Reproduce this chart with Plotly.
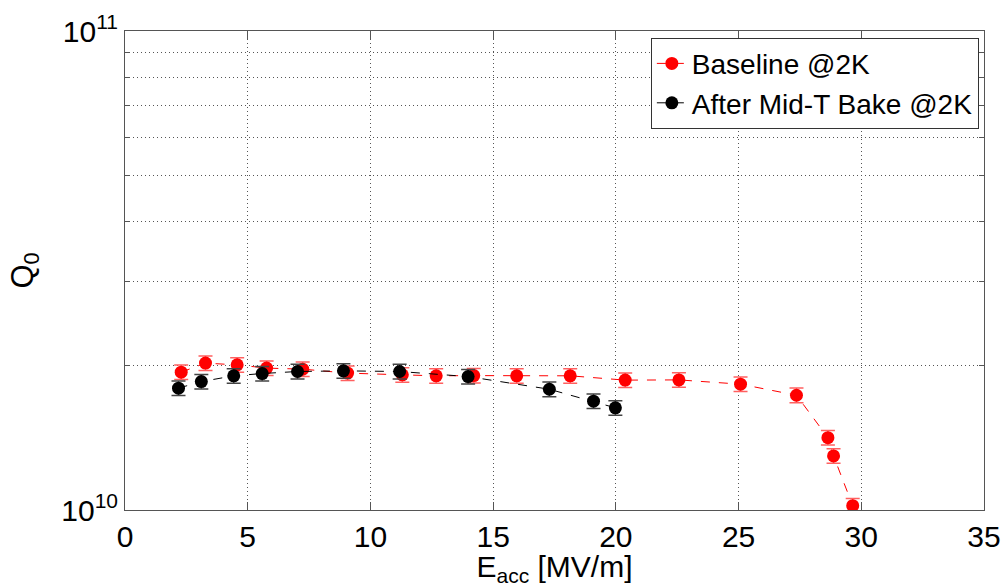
import plotly.graph_objects as go

# Baseline @2K
base_e = [2.29, 3.28, 4.57, 5.77, 7.24, 9.07, 11.30, 12.68, 14.21, 15.96, 18.14,
          20.38, 22.57, 25.08, 27.36, 28.64, 28.87, 29.65]
base_q = [1.940e10, 2.026e10, 2.009e10, 1.978e10, 1.968e10, 1.931e10, 1.915e10,
          1.906e10, 1.908e10, 1.906e10, 1.906e10, 1.867e10, 1.869e10, 1.831e10,
          1.736e10, 1.416e10, 1.297e10, 1.021e10]

# After Mid-T Bake @2K
bake_e = [2.18, 3.11, 4.43, 5.59, 7.03, 8.90, 11.19, 13.98, 17.29, 19.09, 19.98]
bake_q = [1.796e10, 1.854e10, 1.906e10, 1.927e10, 1.946e10, 1.952e10, 1.946e10,
          1.899e10, 1.787e10, 1.687e10, 1.634e10]

err_pct = 3.5

x_ticks = [0, 5, 10, 15, 20, 25, 30, 35]
y_ticks = [1e10, 1e11]
y_ticktext = ["10<sup>10</sup>", "10<sup>11</sup>"]
y_minor = [2e10, 3e10, 4e10, 5e10, 6e10, 7e10, 8e10, 9e10]

FONT = "Liberation Sans, Arial, sans-serif"
GRID = dict(gridcolor="#555555", griddash="1px,3px", gridwidth=1)

fig = go.Figure()
fig.add_trace(go.Scatter(
    x=base_e, y=base_q, mode="lines+markers", name="Baseline @2K",
    line=dict(color="#ff0000", width=1, dash="dash"),
    marker=dict(color="#ff0000", size=13),
    error_y=dict(type="percent", value=err_pct, color="#ff6060", thickness=1.5, width=7),
))
fig.add_trace(go.Scatter(
    x=bake_e, y=bake_q, mode="lines+markers", name="After Mid-T Bake @2K",
    line=dict(color="#000000", width=1, dash="dash"),
    marker=dict(color="#000000", size=13),
    error_y=dict(type="percent", value=err_pct, color="#444444", thickness=1.5, width=7),
))

fig.update_xaxes(
    showline=True, linecolor="#555555", linewidth=1, mirror="ticks",
    ticks="inside", ticklen=8, tickcolor="#555555",
    showgrid=True, **GRID,
    zeroline=False,
    tickfont=dict(family=FONT, size=30, color="#000000"),
    range=[0, 35], tickvals=x_ticks,
    title=dict(text="E<sub>acc</sub> [MV/m]", font=dict(family=FONT, size=30, color="#000000"), standoff=3),
)
fig.update_yaxes(
    showline=True, linecolor="#555555", linewidth=1, mirror="ticks",
    ticks="inside", ticklen=8, tickcolor="#555555",
    showgrid=True, **GRID,
    zeroline=False,
    tickfont=dict(family=FONT, size=30, color="#000000"),
    type="log", range=[10, 11], tickvals=y_ticks, ticktext=y_ticktext,
    minor=dict(tickvals=y_minor, ticks="inside", ticklen=5, tickcolor="#555555",
               showgrid=True, **GRID),
    title=dict(text="Q<sub>0</sub>", font=dict(family=FONT, size=31, color="#000000"), standoff=18),
)

fig.update_layout(
    width=1005, height=587,
    margin=dict(l=125, r=21, t=31, b=77, autoexpand=False),
    paper_bgcolor="white", plot_bgcolor="white",
    font=dict(family=FONT, size=28, color="#000000"),
    showlegend=True,
    legend=dict(
        x=0.994, y=0.986, xanchor="right", yanchor="top",
        bgcolor="white", bordercolor="#333333", borderwidth=1,
        font=dict(family=FONT, size=28, color="#000000"),
        itemwidth=30, tracegroupgap=0,
    ),
)

fig.write_html("out.html", config={"displayModeBar": False},
               post_script="document.body.style.margin='0';")
